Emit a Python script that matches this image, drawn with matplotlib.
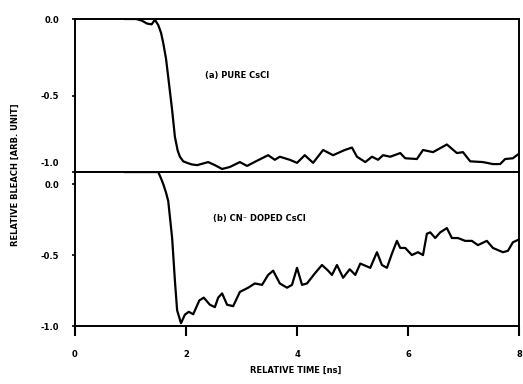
import matplotlib
matplotlib.use("Agg")
import matplotlib.pyplot as plt
import matplotlib.transforms as mtransforms

t_a = [0.9, 1.1, 1.2, 1.3, 1.38, 1.44, 1.50, 1.55, 1.59, 1.64, 1.68, 1.75, 1.80, 1.85, 1.89, 1.95, 2.02,
       2.1, 2.2, 2.3, 2.4, 2.52, 2.65, 2.79, 2.97, 3.10, 3.27, 3.48, 3.60, 3.69, 3.87,
       4.0, 4.14, 4.29, 4.47, 4.65, 4.86, 4.99, 5.08, 5.23, 5.35, 5.46, 5.55, 5.68,
       5.86, 5.95, 6.16, 6.27, 6.45, 6.70, 6.88, 6.99, 7.12, 7.35, 7.53, 7.66, 7.75,
       7.89, 8.0]
v_a = [0.0, 0.0, -0.01, -0.03, -0.035, -0.005, -0.04, -0.09, -0.157, -0.26, -0.38, -0.595, -0.77, -0.86, -0.90, -0.93, -0.94,
       -0.95, -0.955, -0.945, -0.935, -0.955, -0.98, -0.967, -0.935, -0.96, -0.928, -0.89, -0.92, -0.90, -0.92,
       -0.94, -0.89, -0.94, -0.856, -0.89, -0.856, -0.84, -0.90, -0.935, -0.90, -0.92, -0.89, -0.90,
       -0.876, -0.91, -0.915, -0.856, -0.87, -0.82, -0.876, -0.87, -0.93, -0.935, -0.948, -0.948, -0.915,
       -0.91, -0.88]

t_b = [0.9, 1.2, 1.5, 1.55, 1.59, 1.64, 1.68, 1.75, 1.80, 1.84, 1.91, 1.98, 2.05, 2.13, 2.24, 2.32,
       2.43, 2.52, 2.58, 2.65, 2.74, 2.85, 2.97, 3.12, 3.24, 3.37, 3.48, 3.57, 3.69, 3.82,
       3.91, 4.0, 4.09, 4.18, 4.32, 4.45, 4.56, 4.63, 4.72, 4.83, 4.95, 5.05, 5.14, 5.32,
       5.44, 5.53, 5.62, 5.71, 5.80, 5.86, 5.95, 6.07, 6.18, 6.27, 6.34, 6.40, 6.49, 6.58,
       6.70, 6.79, 6.90, 7.03, 7.15, 7.26, 7.42, 7.53, 7.71, 7.80, 7.89, 8.0]
v_b = [0.085, 0.085, 0.085, 0.04, 0.0, -0.06, -0.12, -0.38, -0.68, -0.89, -0.98, -0.92, -0.90, -0.917, -0.82, -0.80,
       -0.85, -0.867, -0.80, -0.77, -0.85, -0.86, -0.76, -0.73, -0.70, -0.71, -0.64, -0.61, -0.70, -0.73,
       -0.71, -0.59, -0.71, -0.70, -0.63, -0.57, -0.61, -0.64, -0.57, -0.66, -0.60, -0.64, -0.56, -0.59,
       -0.48, -0.57, -0.59, -0.49, -0.40, -0.45, -0.45, -0.50, -0.48, -0.50, -0.35, -0.34, -0.38, -0.34,
       -0.31, -0.38, -0.38, -0.40, -0.40, -0.43, -0.40, -0.45, -0.48, -0.47, -0.41, -0.39]

x_ticks = [0, 2, 4, 6, 8]
y_ticks = [0.0, -0.5, -1.0]
y_ticklabels = ["0.0", "-0.5", "-1.0"]

plt.rcParams['font.family'] = ['DejaVu Sans']
plt.rcParams['font.weight'] = 'bold'

fig = plt.figure(figsize=(5.23, 3.84), dpi=100)
ax_a = fig.add_axes([0.1434, 0.552, 0.849, 0.3985])
ax_b = fig.add_axes([0.1434, 0.151, 0.849, 0.401])

for ax in (ax_a, ax_b):
    ax.set_xlim(0, 8)
    ax.set_xticks(x_ticks)
    ax.set_yticks(y_ticks)
    ax.set_yticklabels(y_ticklabels, fontsize=6, fontweight='bold')
    ax.tick_params(axis='y', direction='out', length=2.5, width=1.2, pad=9)
    ax.tick_params(axis='x', direction='out', length=7, width=1.5, pad=10)
    for s in ax.spines.values():
        s.set_linewidth(1.4)

ax_a.plot(t_a, v_a, color='black', lw=1.6)
ax_a.set_ylim(-1.0, 0.0)
ax_a.tick_params(axis='x', bottom=False, labelbottom=False)
# "-1.0" label in the top panel sits a bit higher than its tick
lab = ax_a.get_yticklabels()[2]
lab.set_transform(lab.get_transform() + mtransforms.ScaledTranslation(0, 10 / 100, fig.dpi_scale_trans))
ax_a.text(2.34, -0.366, "(a) PURE CsCl", fontsize=6, fontweight='bold', va='center')

ax_b.plot(t_b, v_b, color='black', lw=1.6)
ax_b.set_ylim(-1.0, 0.085)
ax_b.set_xticklabels([str(x) for x in x_ticks], fontsize=6, fontweight='bold')
ax_b.text(2.49, -0.24, "(b) CN\u207b DOPED CsCl", fontsize=6, fontweight='bold', va='center')

fig.text(0.565, 0.036, "RELATIVE TIME [ns]", fontsize=6, fontweight='bold', ha='center', va='center')
fig.text(0.029, 0.545, "RELATIVE BLEACH [ARB. UNIT]", fontsize=6, fontweight='bold',
         rotation=90, ha='center', va='center')

fig.savefig("out.png", dpi=100)
